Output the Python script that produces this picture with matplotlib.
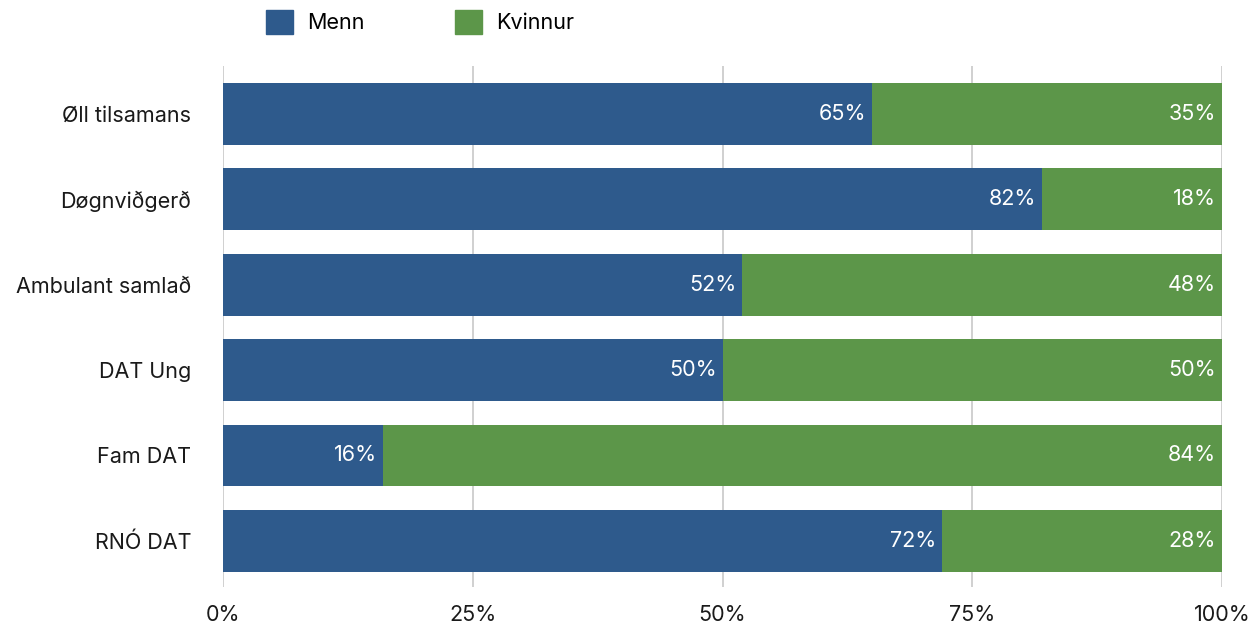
import matplotlib.pyplot as plt
from matplotlib.patches import Patch

# Data
categories = ["Øll tilsamans", "Døgnviðgerð", "Ambulant samlað", "DAT Ung", "Fam DAT", "RNÓ DAT"]
menn = [65, 82, 52, 50, 16, 72]
kvinnur = [35, 18, 48, 50, 84, 28]

blue = "#2E5A8C"
green = "#5C9649"

plt.rcParams['font.family'] = ['Inter', 'DejaVu Sans']

fig = plt.figure(figsize=(12.58, 6.3), dpi=100)
ax = fig.add_axes([223 / 1258, 1 - 587 / 630, 999 / 1258, 521 / 630])

y = list(range(len(categories)))
ax.barh(y, menn, height=0.725, color=blue, zorder=3)
ax.barh(y, kvinnur, left=menn, height=0.725, color=green, zorder=3)

# Value labels inside the end of each segment
for i in y:
    ax.text(menn[i] - 0.6, i, f"{menn[i]}%", color="white", fontsize=15.5,
            ha="right", va="center", zorder=4)
    ax.text(menn[i] + kvinnur[i] - 0.6, i, f"{kvinnur[i]}%", color="white",
            fontsize=15.5, ha="right", va="center", zorder=4)

ax.set_xlim(0, 100)
ax.set_ylim(5.54, -0.56)
ax.set_yticks(y)
ax.set_yticklabels(categories, fontsize=15.5, color="#1a1a1a")
ax.set_xticks([0, 25, 50, 75, 100])
ax.set_xticklabels(["0%", "25%", "50%", "75%", "100%"], fontsize=15.5, color="#1a1a1a")
ax.tick_params(axis="y", length=0, pad=23)
ax.tick_params(axis="x", length=0, pad=13)
ax.grid(axis="x", color="#c8c8c8", linewidth=1.2, zorder=0)
for s in ax.spines.values():
    s.set_visible(False)

# Legend at the top
handles = [Patch(color=blue, label="Menn"), Patch(color=green, label="Kvinnur")]
fig.legend(handles=handles, loc="center left", bbox_to_anchor=(247 / 1258, 1 - 22 / 630),
           ncol=2, frameon=False, fontsize=15.5, handlelength=1.25, handleheight=1.4,
           handletextpad=0.65, columnspacing=4.2)

fig.savefig("out.png", dpi=100)
